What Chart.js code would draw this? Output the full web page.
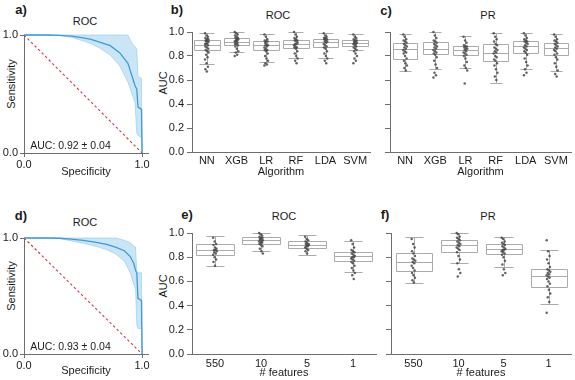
<!DOCTYPE html>
<html lang="en">
<head>
<meta charset="UTF-8">
<title>ROC / PR</title>
<script src="https://cdn.jsdelivr.net/npm/chart.js"></script>
<style>
  body { margin: 0; background: #fff; }
  #fig { position: relative; width: 575px; height: 380px; overflow: hidden;
         font-family: "Liberation Sans", Arial, Helvetica, sans-serif; color: #1a1a1a; }
  #fig canvas { position: absolute; }
  .txt { position: absolute; font-size: 11px; line-height: 1; white-space: nowrap; transform: translate(-50%, -50%); }
  .tag { font-size: 13px; font-weight: bold; }
  .rot { transform: translate(-50%, -50%) rotate(-90deg); }
</style>
</head>
<body>
<div id="fig">
  <div class="txt tag" style="left:21px;top:9px">a)</div>
  <div class="txt tag" style="left:177px;top:9px">b)</div>
  <div class="txt tag" style="left:386px;top:10px">c)</div>
  <div class="txt tag" style="left:21px;top:215px">d)</div>
  <div class="txt tag" style="left:187px;top:214px">e)</div>
  <div class="txt tag" style="left:385px;top:214px">f)</div>

  <div class="txt" style="left:85px;top:21px">ROC</div>
  <div class="txt" style="left:278px;top:15px">ROC</div>
  <div class="txt" style="left:488px;top:15px">PR</div>
  <div class="txt" style="left:85px;top:222px">ROC</div>
  <div class="txt" style="left:284px;top:216px">ROC</div>
  <div class="txt" style="left:488px;top:216px">PR</div>

  <div class="txt rot" style="left:11px;top:84px">Sensitivity</div>
  <div class="txt rot" style="left:11px;top:286px">Sensitivity</div>
  <div class="txt rot" style="left:163px;top:83px">AUC</div>
  <div class="txt rot" style="left:163px;top:286px">AUC</div>
</div>

<script>
// ---- data ----
const diagX = [0, 1];
const diagY = [1, 0];

// panel a
const specA  = [0, 0.1, 0.2, 0.3, 0.4, 0.5, 0.56, 0.64, 0.73, 0.81, 0.88, 0.915, 0.94, 0.955, 0.965, 0.98, 0.995, 1.0];
const meanA  = [1, 1, 1, 0.997, 0.99, 0.975, 0.965, 0.94, 0.91, 0.85, 0.76, 0.65, 0.57, 0.54, 0.39, 0.38, 0.37, 0];
const upperA = [1, 1, 1, 1, 1, 1, 1, 1, 1, 1, 1, 0.93, 0.9, 0.88, 0.65, 0.64, 0.63, 0];
const lowerA = [1, 1, 1, 0.995, 0.98, 0.95, 0.93, 0.89, 0.83, 0.74, 0.6, 0.5, 0.43, 0.17, 0.15, 0.14, 0.13, 0];
const aucA = 'AUC: 0.92 ± 0.04';

// panel d
const specD  = [0, 0.1, 0.2, 0.3, 0.4, 0.5, 0.6, 0.7, 0.78, 0.85, 0.9, 0.93, 0.945, 0.955, 0.965, 0.98, 0.995, 1.0];
const meanD  = [1, 1, 1, 0.998, 0.99, 0.98, 0.965, 0.945, 0.92, 0.89, 0.84, 0.78, 0.72, 0.70, 0.48, 0.47, 0.46, 0];
const upperD = [1, 1, 1, 1, 1, 1, 1, 1, 1, 0.98, 0.96, 0.93, 0.92, 0.70, 0.70, 0.70, 0.70, 0];
const lowerD = [1, 1, 1, 0.995, 0.975, 0.955, 0.93, 0.9, 0.86, 0.8, 0.7, 0.6, 0.56, 0.25, 0.22, 0.22, 0.22, 0];
const aucD = 'AUC: 0.93 ± 0.04';

const algorithms = ['NN', 'XGB', 'LR', 'RF', 'LDA', 'SVM'];
const nFeatures = ['550', '10', '5', '1'];

// box stats: [lower whisker, q1, median, q3, upper whisker]
const rocAlgStats = [
  [0.735, 0.847, 0.894, 0.936, 0.993],
  [0.83, 0.894, 0.92, 0.95, 1.0],
  [0.75, 0.847, 0.889, 0.925, 0.986],
  [0.786, 0.867, 0.903, 0.936, 1.0],
  [0.786, 0.875, 0.917, 0.944, 0.993],
  [0.847, 0.883, 0.911, 0.936, 0.986]
];
const rocAlgPoints = [
  [0.99, 0.97, 0.96, 0.95, 0.94, 0.94, 0.93, 0.93, 0.92, 0.92, 0.91, 0.90, 0.90, 0.89, 0.88, 0.87, 0.86, 0.85, 0.84, 0.83, 0.81, 0.79, 0.77, 0.74, 0.71, 0.69, 0.67],
  [1.0, 0.99, 0.98, 0.97, 0.96, 0.95, 0.95, 0.94, 0.94, 0.93, 0.93, 0.92, 0.92, 0.91, 0.90, 0.90, 0.89, 0.88, 0.86, 0.84, 0.83, 0.81, 0.80],
  [0.98, 0.96, 0.94, 0.93, 0.92, 0.92, 0.91, 0.90, 0.89, 0.89, 0.88, 0.87, 0.86, 0.85, 0.85, 0.84, 0.82, 0.80, 0.78, 0.76, 0.74, 0.73, 0.72],
  [1.0, 0.98, 0.96, 0.95, 0.94, 0.93, 0.93, 0.92, 0.91, 0.90, 0.90, 0.89, 0.88, 0.87, 0.87, 0.86, 0.84, 0.82, 0.80, 0.78, 0.76, 0.74],
  [0.99, 0.97, 0.96, 0.95, 0.95, 0.94, 0.94, 0.93, 0.92, 0.92, 0.91, 0.90, 0.89, 0.88, 0.87, 0.86, 0.84, 0.82, 0.80, 0.78, 0.76, 0.74],
  [0.98, 0.96, 0.95, 0.94, 0.93, 0.93, 0.92, 0.92, 0.91, 0.91, 0.90, 0.90, 0.89, 0.88, 0.87, 0.86, 0.85, 0.84, 0.82, 0.80, 0.78, 0.76, 0.74]
];

const prAlgStats = [
  [0.672, 0.778, 0.861, 0.908, 0.986],
  [0.694, 0.814, 0.861, 0.917, 1.0],
  [0.70, 0.806, 0.853, 0.883, 0.964],
  [0.578, 0.758, 0.825, 0.897, 0.99],
  [0.694, 0.825, 0.883, 0.922, 0.994],
  [0.672, 0.806, 0.867, 0.911, 0.986]
];
const prAlgPoints = [
  [0.98, 0.96, 0.94, 0.93, 0.92, 0.91, 0.90, 0.89, 0.88, 0.87, 0.86, 0.85, 0.84, 0.83, 0.82, 0.80, 0.78, 0.76, 0.74, 0.72, 0.70, 0.68],
  [1.0, 0.97, 0.95, 0.93, 0.92, 0.91, 0.90, 0.89, 0.88, 0.87, 0.86, 0.85, 0.84, 0.83, 0.82, 0.81, 0.79, 0.76, 0.73, 0.70, 0.66, 0.64, 0.62],
  [0.96, 0.93, 0.91, 0.89, 0.88, 0.88, 0.87, 0.86, 0.86, 0.85, 0.84, 0.83, 0.82, 0.81, 0.80, 0.78, 0.75, 0.72, 0.70, 0.68, 0.57],
  [0.99, 0.96, 0.94, 0.92, 0.90, 0.89, 0.87, 0.86, 0.85, 0.84, 0.83, 0.82, 0.80, 0.79, 0.77, 0.76, 0.74, 0.72, 0.69, 0.66, 0.63, 0.60],
  [0.99, 0.97, 0.95, 0.94, 0.93, 0.92, 0.92, 0.91, 0.90, 0.89, 0.88, 0.87, 0.86, 0.85, 0.84, 0.83, 0.81, 0.78, 0.75, 0.72, 0.69, 0.66, 0.64],
  [0.98, 0.96, 0.94, 0.93, 0.92, 0.91, 0.90, 0.89, 0.88, 0.87, 0.86, 0.85, 0.84, 0.82, 0.81, 0.79, 0.77, 0.74, 0.71, 0.68, 0.65, 0.63]
];

const rocFeatStats = [
  [0.724, 0.82, 0.862, 0.909, 0.972],
  [0.848, 0.912, 0.939, 0.964, 1.0],
  [0.82, 0.876, 0.903, 0.931, 0.98],
  [0.674, 0.765, 0.807, 0.843, 0.936]
];
const rocFeatPoints = [
  [0.96, 0.93, 0.91, 0.90, 0.88, 0.87, 0.86, 0.86, 0.85, 0.84, 0.83, 0.82, 0.80, 0.78, 0.76, 0.73],
  [1.0, 0.99, 0.98, 0.97, 0.96, 0.96, 0.95, 0.95, 0.94, 0.94, 0.93, 0.93, 0.92, 0.92, 0.91, 0.90, 0.89, 0.87, 0.85, 0.83],
  [0.97, 0.95, 0.94, 0.93, 0.92, 0.91, 0.91, 0.90, 0.90, 0.89, 0.89, 0.88, 0.87, 0.86, 0.85, 0.83],
  [0.94, 0.91, 0.88, 0.86, 0.85, 0.84, 0.83, 0.82, 0.81, 0.80, 0.80, 0.79, 0.78, 0.77, 0.76, 0.75, 0.73, 0.71, 0.69, 0.67, 0.65, 0.62]
];

const prFeatStats = [
  [0.589, 0.689, 0.764, 0.833, 0.964],
  [0.75, 0.842, 0.903, 0.939, 1.0],
  [0.722, 0.825, 0.867, 0.908, 0.964],
  [0.417, 0.556, 0.644, 0.70, 0.861]
];
const prFeatPoints = [
  [0.95, 0.91, 0.88, 0.85, 0.83, 0.81, 0.79, 0.78, 0.77, 0.76, 0.75, 0.73, 0.71, 0.69, 0.67, 0.65, 0.63, 0.61, 0.59],
  [1.0, 0.99, 0.97, 0.96, 0.95, 0.94, 0.93, 0.92, 0.91, 0.90, 0.89, 0.88, 0.87, 0.86, 0.84, 0.81, 0.78, 0.75, 0.70, 0.67, 0.64],
  [0.96, 0.95, 0.93, 0.92, 0.91, 0.90, 0.89, 0.88, 0.87, 0.86, 0.86, 0.85, 0.84, 0.83, 0.82, 0.80, 0.77, 0.74, 0.70, 0.67, 0.65],
  [0.94, 0.85, 0.81, 0.78, 0.75, 0.72, 0.70, 0.69, 0.68, 0.67, 0.66, 0.65, 0.64, 0.63, 0.62, 0.60, 0.58, 0.56, 0.53, 0.50, 0.47, 0.43, 0.34]
];

// ---- drawing ----
Chart.defaults.font.family = '"Liberation Sans", Arial, Helvetica, sans-serif';
Chart.defaults.font.size = 11;
Chart.defaults.color = '#1a1a1a';
Chart.defaults.animation = false;

const axisCol = '#6e6e6e';
const boxCol = '#ababab';
const dotCol = 'rgba(70,70,70,0.85)';
const fig = document.getElementById('fig');

// box = [left, top, w, h] of the canvas, area = [l, t, r, b] of the plot, page pixels
function makeCanvas(box) {
  const c = document.createElement('canvas');
  c.width = box[2]; c.height = box[3];
  c.style.left = box[0] + 'px'; c.style.top = box[1] + 'px';
  c.style.width = box[2] + 'px'; c.style.height = box[3] + 'px';
  fig.appendChild(c);
  return c;
}

function frame(box, area) {
  return {
    padding: { left: 0, top: area[1] - box[1], right: box[0] + box[2] - area[2], bottom: 0 },
    yw: area[0] - box[0],
    xh: box[1] + box[3] - area[3]
  };
}

function xy(xs, ys) {
  return xs.map((x, i) => ({ x: x, y: ys[i] }));
}

function addText(text, x, y) {
  const d = document.createElement('div');
  d.className = 'txt';
  d.style.left = x + 'px'; d.style.top = y + 'px';
  d.style.fontSize = '10.5px';
  d.textContent = text;
  fig.appendChild(d);
}

function rocChart(box, area, spec, mean, lo, hi, titlePad) {
  const f = frame(box, area);
  new Chart(makeCanvas(box), {
    type: 'line',
    data: {
      datasets: [
        { data: xy(spec, mean), borderColor: '#3f9bd6', borderWidth: 1.3 },
        { data: xy(diagX, diagY), borderColor: '#d8343c', borderWidth: 1.1, borderDash: [2.5, 2.5] },
        { data: xy(spec, hi), borderColor: 'rgba(110,185,230,0.55)', borderWidth: 0.8 },
        { data: xy(spec, lo), borderColor: 'rgba(110,185,230,0.55)', borderWidth: 0.8,
          fill: 2, backgroundColor: 'rgba(150,205,238,0.5)' }
      ]
    },
    options: {
      responsive: false,
      devicePixelRatio: 1,
      layout: { padding: f.padding },
      elements: { point: { radius: 0 }, line: { tension: 0 } },
      datasets: { line: { clip: false } },
      plugins: { legend: { display: false }, tooltip: { enabled: false } },
      scales: {
        x: {
          type: 'linear', min: 0, max: 1.05,
          afterBuildTicks: s => { s.ticks = [{ value: 0 }, { value: 1 }]; },
          afterFit: s => { s.height = f.xh; },
          ticks: { padding: 1, maxRotation: 0, callback: v => v.toFixed(1) },
          grid: { drawOnChartArea: false, tickLength: 4, color: axisCol },
          border: { color: axisCol },
          title: { display: true, text: 'Specificity', padding: { top: 0, bottom: titlePad } }
        },
        y: {
          type: 'linear', min: 0, max: 1,
          afterBuildTicks: s => { s.ticks = [{ value: 0 }, { value: 1 }]; },
          afterFit: s => { s.width = f.yw; },
          ticks: { padding: 2, callback: v => v.toFixed(1) },
          grid: { drawOnChartArea: false, tickLength: 4, color: axisCol },
          border: { color: axisCol }
        }
      }
    }
  });
}

function boxPlugin(stats, boxW, capW) {
  return {
    id: 'boxes',
    beforeDatasetsDraw(chart) {
      const { ctx, scales: { x, y } } = chart;
      const px = v => Math.round(x.getPixelForValue(v)) + 0.5;
      const py = v => Math.round(y.getPixelForValue(v)) + 0.5;
      ctx.save();
      ctx.strokeStyle = boxCol;
      ctx.lineWidth = 1;
      stats.forEach((s, i) => {
        const xl = px(i - boxW / 2), xr = px(i + boxW / 2);
        const cl = px(i - capW / 2), cr = px(i + capW / 2);
        const xc = px(i);
        ctx.beginPath();
        ctx.rect(xl, py(s[3]), xr - xl, py(s[1]) - py(s[3]));
        ctx.moveTo(xl, py(s[2])); ctx.lineTo(xr, py(s[2]));
        ctx.moveTo(xc, py(s[3])); ctx.lineTo(xc, py(s[4]));
        ctx.moveTo(xc, py(s[1])); ctx.lineTo(xc, py(s[0]));
        ctx.moveTo(cl, py(s[4])); ctx.lineTo(cr, py(s[4]));
        ctx.moveTo(cl, py(s[0])); ctx.lineTo(cr, py(s[0]));
        ctx.stroke();
      });
      ctx.restore();
    }
  };
}

function boxChart(box, area, cats, stats, points, opt) {
  const f = frame(box, area);
  const dots = [];
  points.forEach((vals, i) => {
    vals.forEach((v, j) => {
      // fixed strip offset, small and not tied to the sort order
      dots.push({ x: i + (((j * 4) % 11) - 5) / 5 * opt.jitter, y: v });
    });
  });
  new Chart(makeCanvas(box), {
    type: 'scatter',
    data: {
      datasets: [{ data: dots, backgroundColor: dotCol, borderWidth: 0, pointRadius: 1.25, clip: false }]
    },
    plugins: [boxPlugin(stats, opt.boxW, opt.capW)],
    options: {
      responsive: false,
      devicePixelRatio: 1,
      layout: { padding: f.padding },
      plugins: { legend: { display: false }, tooltip: { enabled: false } },
      scales: {
        x: {
          type: 'linear', min: -0.5, max: cats.length - 0.5,
          afterBuildTicks: s => { s.ticks = cats.map((c, i) => ({ value: i })); },
          afterFit: s => { s.height = f.xh; },
          ticks: { padding: opt.tickPad, maxRotation: 0, autoSkip: false, callback: v => cats[v] },
          grid: { display: false, drawTicks: false },
          border: { color: axisCol },
          title: { display: true, text: opt.xTitle, padding: { top: 0, bottom: opt.titlePad } }
        },
        y: {
          type: 'linear', min: 0, max: 1,
          afterFit: s => { s.width = f.yw; },
          ticks: { stepSize: 0.2, padding: 3, callback: v => opt.yLabels ? v.toFixed(1) : '' },
          grid: { drawOnChartArea: false, tickLength: 5, color: axisCol },
          border: { color: axisCol }
        }
      }
    }
  });
}

rocChart([0, 0, 160, 190], [24, 35, 148, 153], specA, meanA, lowerA, upperA, 11);
rocChart([0, 190, 160, 190], [24, 238, 148, 354], specD, meanD, lowerD, upperD, 2.5);
addText(aucA, 70.5, 145);
addText(aucD, 70.5, 346);

boxChart([160, 0, 215, 190], [192, 32, 370, 152], algorithms, rocAlgStats, rocAlgPoints,
  { boxW: 0.86, capW: 0.5, jitter: 0.06, tickPad: 2, titlePad: 11.4, xTitle: 'Algorithm', yLabels: true });
boxChart([370, 0, 205, 190], [390, 32, 574, 152], algorithms, prAlgStats, prAlgPoints,
  { boxW: 0.82, capW: 0.4, jitter: 0.06, tickPad: 2, titlePad: 11.4, xTitle: 'Algorithm', yLabels: false });
boxChart([160, 190, 220, 190], [192, 233, 378, 354], nFeatures, rocFeatStats, rocFeatPoints,
  { boxW: 0.82, capW: 0.4, jitter: 0.04, tickPad: 3, titlePad: 0, xTitle: '# features', yLabels: true });
boxChart([370, 190, 205, 190], [391, 233, 574, 354], nFeatures, prFeatStats, prFeatPoints,
  { boxW: 0.8, capW: 0.4, jitter: 0.04, tickPad: 3, titlePad: 0, xTitle: '# features', yLabels: false });
</script>
</body>
</html>
